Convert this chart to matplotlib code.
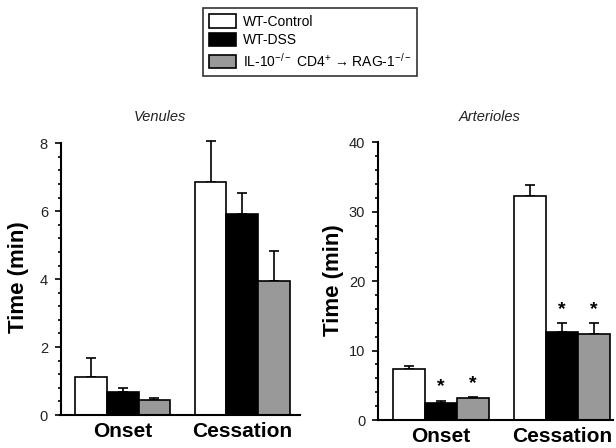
import matplotlib
matplotlib.use("Agg")
import matplotlib.pyplot as plt
import numpy as np
from matplotlib.patches import Patch
from matplotlib.ticker import MultipleLocator

plt.rcParams['font.family'] = ['Liberation Sans', 'DejaVu Sans']
plt.rcParams['mathtext.fontset'] = 'custom'
plt.rcParams['mathtext.rm'] = 'Liberation Sans'
plt.rcParams['mathtext.it'] = 'Liberation Sans:italic'
plt.rcParams['mathtext.bf'] = 'Liberation Sans:bold'

categories = ["Onset", "Cessation"]
series = ["WT-Control", "WT-DSS", "IL-10$^{-/-}$ CD4$^{+}$ \u2192 RAG-1$^{-/-}$"]
colors = ["white", "black", "#999999"]

venules_mean = [[1.13, 6.87], [0.67, 5.91], [0.44, 3.95]]
venules_err = [[0.54, 1.21], [0.12, 0.64], [0.07, 0.89]]

arterioles_mean = [[7.3, 32.3], [2.5, 12.7], [3.1, 12.4]]
arterioles_err = [[0.45, 1.6], [0.3, 1.2], [0.15, 1.5]]
# star markers on arterioles: (series index, category index)
arterioles_stars = [(1, 0), (2, 0), (1, 1), (2, 1)]

W, H = 616, 448
fig = plt.figure(figsize=(W / 100, H / 100), dpi=100)


def px_axes(x0, x1, y_bottom, y_top):
    return fig.add_axes([x0 / W, (H - y_bottom) / H, (x1 - x0) / W, (y_bottom - y_top) / H])


def draw_panel(ax, means, errs, xlim, ylim, ybound, major, minor, w):
    x = np.arange(len(categories))
    for i, (m, e) in enumerate(zip(means, errs)):
        pos = x + (i - 1) * w
        ax.bar(pos, m, width=w, color=colors[i], edgecolor="black", linewidth=1.2, zorder=2)
        ax.errorbar(pos, m, yerr=[np.zeros(len(e)), e], fmt="none", ecolor="black",
                    elinewidth=1.2, capsize=3.5, capthick=1.2, zorder=1)
    ax.set_xlim(*xlim)
    ax.set_ylim(*ylim)
    for s in ["top", "right"]:
        ax.spines[s].set_visible(False)
    ax.spines["left"].set_bounds(*ybound)
    ax.spines["left"].set_linewidth(1.5)
    ax.spines["bottom"].set_linewidth(1.5)
    ax.yaxis.set_major_locator(MultipleLocator(major))
    ax.yaxis.set_minor_locator(MultipleLocator(minor))
    ax.tick_params(axis="y", which="major", length=4, width=1.2, labelsize=10.5,
                   labelcolor="#222222", pad=5)
    ax.tick_params(axis="y", which="minor", length=2.5, width=1.2)
    ax.set_xticks(x)
    ax.set_xticklabels(categories, fontsize=15, fontweight="bold")
    ax.tick_params(axis="x", length=0, pad=5)
    ax.patch.set_alpha(0)


w = 0.265
ax1 = px_axes(60.5, 300, 415, 415 - 8.3 * 33.96)
draw_panel(ax1, venules_mean, venules_err, (-0.523, 1.485), (0, 8.3), (0, 8), 2, 0.4, w)

ax2 = px_axes(377.7, 613, 420, 142.3)
draw_panel(ax2, arterioles_mean, arterioles_err, (-0.521, 1.421), (0, 40), (0, 40), 10, 2, 0.264)
for si, ci in arterioles_stars:
    top = arterioles_mean[si][ci] + arterioles_err[si][ci]
    ax2.annotate("*", xy=(ci + (si - 1) * 0.264, top), xytext=(0, 4),
                 textcoords="offset points", ha="center", va="bottom",
                 fontsize=14, fontweight="bold")

fig.text(160 / W, 1 - 117 / H, "Venules", style="italic", fontsize=10.5,
         ha="center", va="center", color="#222222")
fig.text(490 / W, 1 - 117 / H, "Arterioles", style="italic", fontsize=10.5,
         ha="center", va="center", color="#222222")
fig.text(19 / W, 1 - 277 / H, "Time (min)", rotation=90, fontsize=16,
         fontweight="bold", ha="center", va="center")
fig.text(333 / W, 1 - 280 / H, "Time (min)", rotation=90, fontsize=16,
         fontweight="bold", ha="center", va="center")

handles = [Patch(facecolor=c, edgecolor="black", linewidth=1.2) for c in colors]
leg = fig.legend(handles, series, loc="upper left",
                 bbox_to_anchor=(203 / W, 1 - 8 / H), frameon=True, fancybox=False,
                 fontsize=10, handlelength=1.95, handleheight=1.1,
                 handletextpad=0.45, labelspacing=0.3, borderpad=0.45,
                 borderaxespad=0)
leg.get_frame().set_edgecolor("black")
leg.get_frame().set_linewidth(1.2)

fig.savefig("out.png", dpi=100)
